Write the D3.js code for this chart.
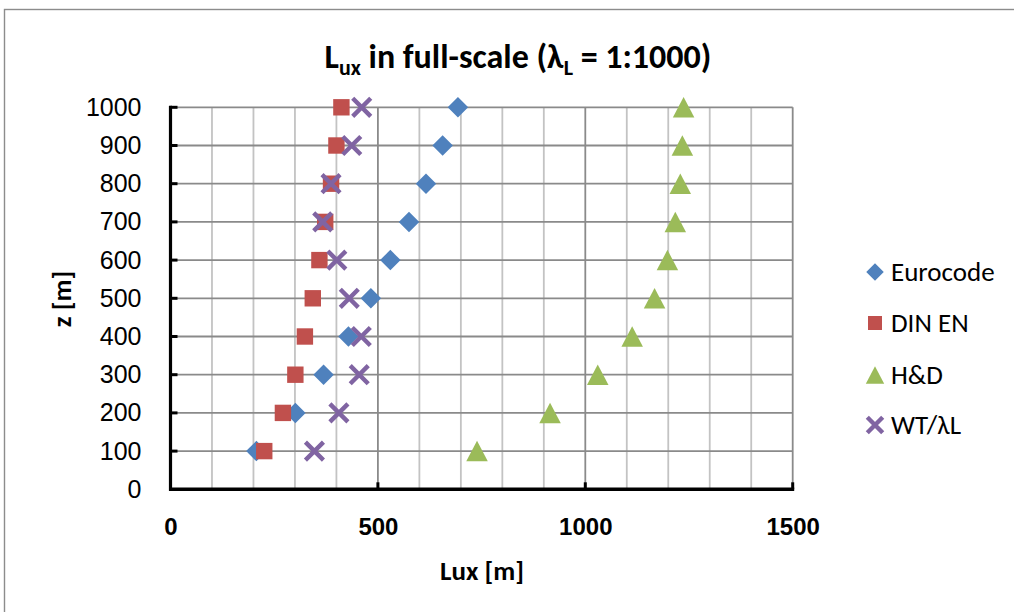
<!DOCTYPE html>
<html>
<head>
<meta charset="utf-8">
<script src="https://cdn.jsdelivr.net/npm/d3@7/dist/d3.min.js"></script>
<style>
  html, body { margin: 0; padding: 0; background: #fff; }
  svg { display: block; font-family: Carlito, Calibri, Lato, "Open Sans", sans-serif; }
</style>
</head>
<body>
<svg id="chart" width="1014" height="612"></svg>
<script>
// Heights above ground (m)
const heights = [100, 200, 300, 400, 500, 600, 700, 800, 900, 1000];

// Integral length scale Lux (m) per approach
const eurocode = [207, 301, 369, 429, 483, 530, 575, 616, 656, 693];
const dinEn    = [226, 271, 301, 324, 343, 359, 373, 387, 400, 412];
const hd       = [739, 915, 1030, 1113, 1167, 1198, 1217, 1229, 1234, 1237];
const wtLambda = [347, 406, 455, 460, 431, 401, 367, 387, 437, 461];

const seriesNames = ["Eurocode", "DIN EN", "H&D", "WT/\u03bbL"];
const seriesColors = ["#4f81bd", "#c0504d", "#9bbb59", "#8064a2"];
const seriesShapes = ["diamond", "square", "triangle", "cross"];

const xTicks = [0, 500, 1000, 1500];
const yTicks = [0, 100, 200, 300, 400, 500, 600, 700, 800, 900, 1000];

const series = [eurocode, dinEn, hd, wtLambda].map((vals, i) => ({
  name: seriesNames[i],
  color: seriesColors[i],
  shape: seriesShapes[i],
  points: vals.map((v, j) => ({ x: v, z: heights[j] }))
}));

const svg = d3.select("#chart");

// Chart frame
svg.append("rect")
  .attr("x", 4.5).attr("y", 9.5)
  .attr("width", 1100).attr("height", 700)
  .attr("fill", "#fff").attr("stroke", "#8c8c8c").attr("stroke-width", 1.4);

const plot = { left: 170.5, right: 792.7, top: 107.3, bottom: 489.3 };

const x = d3.scaleLinear().domain([0, 1500]).range([plot.left, plot.right]);
const y = d3.scaleLinear().domain([0, 1000]).range([plot.bottom, plot.top]);

// Grid: minor verticals every 100, majors at axis ticks
const g = svg.append("g");
g.selectAll("line.vminor")
  .data(d3.range(100, 1501, 100).filter(v => v % 500 !== 0))
  .join("line")
  .attr("x1", d => x(d)).attr("x2", d => x(d))
  .attr("y1", plot.top).attr("y2", plot.bottom)
  .attr("stroke", "#c3c3c3").attr("stroke-width", 1.8);
g.selectAll("line.hmajor")
  .data(yTicks.filter(v => v > 0))
  .join("line")
  .attr("x1", plot.left).attr("x2", plot.right)
  .attr("y1", d => y(d)).attr("y2", d => y(d))
  .attr("stroke", "#8a8a8a").attr("stroke-width", 1.8);
g.selectAll("line.vmajor")
  .data(xTicks.filter(v => v > 0))
  .join("line")
  .attr("x1", d => x(d)).attr("x2", d => x(d))
  .attr("y1", plot.top).attr("y2", plot.bottom)
  .attr("stroke", "#8a8a8a").attr("stroke-width", 1.8);

// Axes
const fmt = d3.format("d");
const yAxis = d3.axisLeft(y).tickValues(yTicks).tickFormat(fmt).tickSize(0).tickPadding(29);
const yG = svg.append("g").attr("transform", `translate(${plot.left},0)`).call(yAxis);
yG.select(".domain").remove();
yG.selectAll("text").attr("font-size", 25).attr("fill", "#000");

const xAxis = d3.axisBottom(x).tickValues(xTicks).tickFormat(fmt).tickSize(0).tickPadding(29);
const xG = svg.append("g").attr("transform", `translate(0,${plot.bottom})`).call(xAxis);
xG.select(".domain").remove();
xG.selectAll("text").attr("font-size", 24).attr("font-weight", "bold").attr("fill", "#000");

// Axis lines with inside tick marks
svg.append("line")
  .attr("x1", plot.left).attr("x2", plot.left)
  .attr("y1", plot.top - 1.5).attr("y2", plot.bottom + 1.5)
  .attr("stroke", "#000").attr("stroke-width", 3.2);
svg.selectAll("line.ytick")
  .data(yTicks.filter(v => v > 0))
  .join("line")
  .attr("x1", plot.left).attr("x2", plot.left + 7)
  .attr("y1", d => y(d)).attr("y2", d => y(d))
  .attr("stroke", "#000").attr("stroke-width", 3);
svg.append("line")
  .attr("x1", plot.left - 1.5).attr("x2", plot.right + 1.5)
  .attr("y1", plot.bottom).attr("y2", plot.bottom)
  .attr("stroke", "#000").attr("stroke-width", 3.6);
svg.selectAll("line.xtick")
  .data(xTicks.filter(v => v > 0))
  .join("line")
  .attr("x1", d => x(d)).attr("x2", d => x(d))
  .attr("y1", plot.bottom).attr("y2", plot.bottom - 7)
  .attr("stroke", "#000").attr("stroke-width", 3);

// Marker shapes
function markerPath(shape, s) {
  const h = s / 2;
  switch (shape) {
    case "diamond": return `M0,${-h}L${h},0L0,${h}L${-h},0Z`;
    case "square": { const q = h * 0.8; return `M${-q},${-q}H${q}V${q}H${-q}Z`; }
    case "triangle": return `M0,${-h}L${h * 1.05},${h}L${-h * 1.05},${h}Z`;
    case "cross": { const c = h * 0.88; return `M${-c},${-c}L${c},${c}M${-c},${c}L${c},${-c}`; }
  }
}
function drawMarker(sel, shape, color, size) {
  sel.attr("d", markerPath(shape, size));
  if (shape === "cross") {
    sel.attr("fill", "none").attr("stroke", color).attr("stroke-width", 4.4);
  } else {
    sel.attr("fill", color).attr("stroke", "none");
  }
}

series.forEach(s => {
  svg.append("g").selectAll("path")
    .data(s.points)
    .join("path")
    .attr("transform", d => `translate(${x(d.x)},${y(d.z)})`)
    .call(sel => drawMarker(sel, s.shape, s.color, 20.5));
});

// Title
const title = svg.append("text")
  .attr("x", 518).attr("y", 68)
  .attr("text-anchor", "middle")
  .attr("font-size", 34).attr("font-weight", "bold").attr("fill", "#000");
title.append("tspan").text("L");
title.append("tspan").attr("font-size", 22).attr("dy", 7).text("ux");
title.append("tspan").attr("dy", -7).text(" in full-scale (\u03bb");
title.append("tspan").attr("font-size", 22).attr("dy", 7).text("L");
title.append("tspan").attr("dy", -7).text(" = 1:1000)");

// Axis titles
svg.append("text")
  .attr("x", 482).attr("y", 580)
  .attr("text-anchor", "middle")
  .attr("font-size", 27).attr("font-weight", "bold")
  .text("Lux [m]");
svg.append("text")
  .attr("transform", "translate(71,299) rotate(-90)")
  .attr("text-anchor", "middle")
  .attr("font-size", 27).attr("font-weight", "bold")
  .text("z [m]");

// Legend
const legendY = [272, 323, 375, 425];
const legend = svg.append("g");
series.forEach((s, i) => {
  const row = legend.append("g").attr("transform", `translate(875,${legendY[i]})`);
  row.append("path").call(sel => drawMarker(sel, s.shape, s.color, 17.5));
  row.append("text")
    .attr("x", 16).attr("y", 0).attr("dy", "0.35em")
    .attr("font-size", 27).attr("fill", "#000")
    .text(s.name);
});
</script>
</body>
</html>
